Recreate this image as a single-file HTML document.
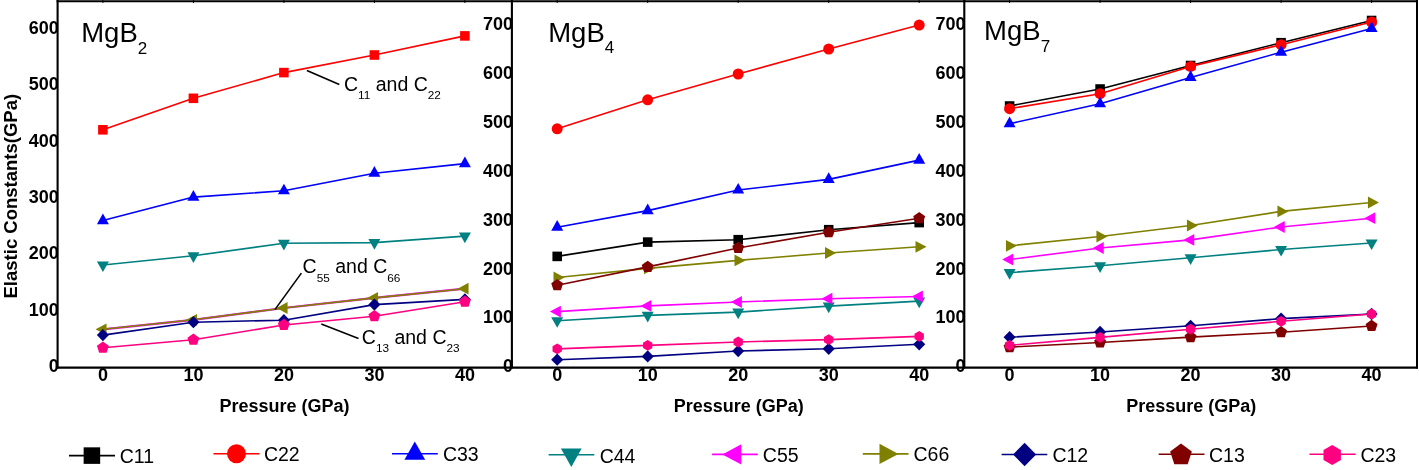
<!DOCTYPE html>
<html><head><meta charset="utf-8"><style>html,body{margin:0;padding:0;background:#fff;width:1419px;height:470px;overflow:hidden;position:relative}</style></head>
<body>
<svg width="1419" height="470" viewBox="0 0 1419 470" style="position:absolute;left:0;top:0;will-change:transform">
<rect width="1419" height="470" fill="#fff"/>
<polyline points="102.9,129.8 193.4,98.3 283.9,72.6 374.4,55.0 464.9,35.9" fill="none" stroke="#ff0000" stroke-width="1.6" stroke-linejoin="round"/>
<rect x="98.12" y="125.02" width="9.57" height="9.57" fill="#ff0000"/>
<rect x="188.62" y="93.52" width="9.57" height="9.57" fill="#ff0000"/>
<rect x="279.11" y="67.81" width="9.57" height="9.57" fill="#ff0000"/>
<rect x="369.61" y="50.22" width="9.57" height="9.57" fill="#ff0000"/>
<rect x="460.11" y="31.11" width="9.57" height="9.57" fill="#ff0000"/>
<polyline points="102.9,220.6 193.4,197.1 283.9,190.8 374.4,173.2 464.9,163.6" fill="none" stroke="#0000ff" stroke-width="1.6" stroke-linejoin="round"/>
<polygon points="102.90,213.49 108.90,224.16 96.91,224.16" fill="#0000ff"/>
<polygon points="193.40,189.99 199.40,200.66 187.41,200.66" fill="#0000ff"/>
<polygon points="283.90,183.69 289.89,194.36 277.90,194.36" fill="#0000ff"/>
<polygon points="374.40,166.09 380.39,176.76 368.40,176.76" fill="#0000ff"/>
<polygon points="464.90,156.49 470.89,167.16 458.90,167.16" fill="#0000ff"/>
<polyline points="102.9,265.0 193.4,255.8 283.9,243.3 374.4,242.6 464.9,236.1" fill="none" stroke="#008080" stroke-width="1.6" stroke-linejoin="round"/>
<polygon points="102.90,272.11 108.90,261.44 96.91,261.44" fill="#008080"/>
<polygon points="193.40,262.91 199.40,252.24 187.41,252.24" fill="#008080"/>
<polygon points="283.90,250.41 289.89,239.74 277.90,239.74" fill="#008080"/>
<polygon points="374.40,249.71 380.39,239.04 368.40,239.04" fill="#008080"/>
<polygon points="464.90,243.21 470.89,232.54 458.90,232.54" fill="#008080"/>
<polyline points="102.9,329.3 193.4,319.8 283.9,308 374.4,297.9 464.9,288.7" fill="none" stroke="#ff00ff" stroke-width="2.2" stroke-linejoin="round"/>
<polyline points="102.9,329.3 193.4,319.8 283.9,308 374.4,297.9 464.9,288.7" fill="none" stroke="#808000" stroke-width="1.6" stroke-linejoin="round"/>
<polygon points="95.57,329.30 106.57,323.42 106.57,335.19" fill="#808000"/>
<polygon points="186.07,319.80 197.07,313.92 197.07,325.69" fill="#808000"/>
<polygon points="276.57,308.00 287.57,302.12 287.57,313.88" fill="#808000"/>
<polygon points="367.07,297.90 378.07,292.01 378.07,303.78" fill="#808000"/>
<polygon points="457.57,288.70 468.57,282.81 468.57,294.58" fill="#808000"/>
<polyline points="102.9,335.1 193.4,322.2 283.9,320.2 374.4,304.6 464.9,299.4" fill="none" stroke="#000080" stroke-width="1.6" stroke-linejoin="round"/>
<polygon points="102.90,328.94 108.95,335.10 102.90,341.26 96.85,335.10" fill="#000080"/>
<polygon points="193.40,316.04 199.45,322.20 193.40,328.36 187.35,322.20" fill="#000080"/>
<polygon points="283.90,314.04 289.95,320.20 283.90,326.36 277.85,320.20" fill="#000080"/>
<polygon points="374.40,298.44 380.45,304.60 374.40,310.76 368.35,304.60" fill="#000080"/>
<polygon points="464.90,293.24 470.95,299.40 464.90,305.56 458.85,299.40" fill="#000080"/>
<polyline points="102.9,347.7 193.4,339.8 283.9,325.0 374.4,316.3 464.9,301.7" fill="none" stroke="#ff0080" stroke-width="1.6" stroke-linejoin="round"/>
<polygon points="102.90,341.43 108.86,345.76 106.59,352.77 99.21,352.77 96.94,345.76" fill="#ff0080"/>
<polygon points="193.40,333.53 199.36,337.86 197.09,344.87 189.71,344.87 187.44,337.86" fill="#ff0080"/>
<polygon points="283.90,318.73 289.86,323.06 287.59,330.07 280.21,330.07 277.94,323.06" fill="#ff0080"/>
<polygon points="374.40,310.03 380.36,314.36 378.09,321.37 370.71,321.37 368.44,314.36" fill="#ff0080"/>
<polygon points="464.90,295.43 470.86,299.76 468.59,306.77 461.21,306.77 458.94,299.76" fill="#ff0080"/>
<polyline points="557.2,256.4 647.7,242.1 738.2,239.7 828.7,229.7 919.2,222.6" fill="none" stroke="#000000" stroke-width="1.6" stroke-linejoin="round"/>
<rect x="552.42" y="251.61" width="9.57" height="9.57" fill="#000000"/>
<rect x="642.92" y="237.31" width="9.57" height="9.57" fill="#000000"/>
<rect x="733.42" y="234.91" width="9.57" height="9.57" fill="#000000"/>
<rect x="823.92" y="224.91" width="9.57" height="9.57" fill="#000000"/>
<rect x="914.42" y="217.81" width="9.57" height="9.57" fill="#000000"/>
<polyline points="557.2,128.8 647.7,99.8 738.2,74.0 828.7,49.0 919.2,25.1" fill="none" stroke="#ff0000" stroke-width="1.6" stroke-linejoin="round"/>
<circle cx="557.20" cy="128.80" r="5.50" fill="#ff0000"/>
<circle cx="647.70" cy="99.80" r="5.50" fill="#ff0000"/>
<circle cx="738.20" cy="74.00" r="5.50" fill="#ff0000"/>
<circle cx="828.70" cy="49.00" r="5.50" fill="#ff0000"/>
<circle cx="919.20" cy="25.10" r="5.50" fill="#ff0000"/>
<polyline points="557.2,227.2 647.7,210.6 738.2,190.0 828.7,179.4 919.2,160.1" fill="none" stroke="#0000ff" stroke-width="1.6" stroke-linejoin="round"/>
<polygon points="557.20,220.09 563.20,230.76 551.21,230.76" fill="#0000ff"/>
<polygon points="647.70,203.49 653.70,214.16 641.71,214.16" fill="#0000ff"/>
<polygon points="738.20,182.89 744.20,193.56 732.21,193.56" fill="#0000ff"/>
<polygon points="828.70,172.29 834.70,182.96 822.71,182.96" fill="#0000ff"/>
<polygon points="919.20,152.99 925.20,163.66 913.21,163.66" fill="#0000ff"/>
<polyline points="557.2,320.7 647.7,315.4 738.2,312.1 828.7,306.1 919.2,301.1" fill="none" stroke="#008080" stroke-width="1.6" stroke-linejoin="round"/>
<polygon points="557.20,327.81 563.20,317.14 551.21,317.14" fill="#008080"/>
<polygon points="647.70,322.51 653.70,311.84 641.71,311.84" fill="#008080"/>
<polygon points="738.20,319.21 744.20,308.54 732.21,308.54" fill="#008080"/>
<polygon points="828.70,313.21 834.70,302.54 822.71,302.54" fill="#008080"/>
<polygon points="919.20,308.21 925.20,297.54 913.21,297.54" fill="#008080"/>
<polyline points="557.2,311.6 647.7,305.9 738.2,302 828.7,298.7 919.2,296.5" fill="none" stroke="#ff00ff" stroke-width="1.6" stroke-linejoin="round"/>
<polygon points="549.87,311.60 560.87,305.72 560.87,317.49" fill="#ff00ff"/>
<polygon points="640.37,305.90 651.37,300.01 651.37,311.78" fill="#ff00ff"/>
<polygon points="730.87,302.00 741.87,296.12 741.87,307.88" fill="#ff00ff"/>
<polygon points="821.37,298.70 832.37,292.81 832.37,304.58" fill="#ff00ff"/>
<polygon points="911.87,296.50 922.87,290.62 922.87,302.38" fill="#ff00ff"/>
<polyline points="557.2,277.5 647.7,268.4 738.2,260.4 828.7,253 919.2,246.8" fill="none" stroke="#808000" stroke-width="1.6" stroke-linejoin="round"/>
<polygon points="564.53,277.50 553.53,271.62 553.53,283.38" fill="#808000"/>
<polygon points="655.03,268.40 644.03,262.51 644.03,274.28" fill="#808000"/>
<polygon points="745.53,260.40 734.53,254.51 734.53,266.28" fill="#808000"/>
<polygon points="836.03,253.00 825.03,247.12 825.03,258.88" fill="#808000"/>
<polygon points="926.53,246.80 915.53,240.92 915.53,252.69" fill="#808000"/>
<polyline points="557.2,359.7 647.7,356.4 738.2,351 828.7,348.8 919.2,344.3" fill="none" stroke="#000080" stroke-width="1.6" stroke-linejoin="round"/>
<polygon points="557.20,353.54 563.25,359.70 557.20,365.86 551.15,359.70" fill="#000080"/>
<polygon points="647.70,350.24 653.75,356.40 647.70,362.56 641.65,356.40" fill="#000080"/>
<polygon points="738.20,344.84 744.25,351.00 738.20,357.16 732.15,351.00" fill="#000080"/>
<polygon points="828.70,342.64 834.75,348.80 828.70,354.96 822.65,348.80" fill="#000080"/>
<polygon points="919.20,338.14 925.25,344.30 919.20,350.46 913.15,344.30" fill="#000080"/>
<polyline points="557.2,285.2 647.7,266.9 738.2,248 828.7,232.3 919.2,218.2" fill="none" stroke="#800000" stroke-width="1.6" stroke-linejoin="round"/>
<polygon points="557.20,278.93 563.16,283.26 560.89,290.27 553.51,290.27 551.24,283.26" fill="#800000"/>
<polygon points="647.70,260.63 653.66,264.96 651.39,271.97 644.01,271.97 641.74,264.96" fill="#800000"/>
<polygon points="738.20,241.73 744.16,246.06 741.89,253.07 734.51,253.07 732.24,246.06" fill="#800000"/>
<polygon points="828.70,226.03 834.66,230.36 832.39,237.37 825.01,237.37 822.74,230.36" fill="#800000"/>
<polygon points="919.20,211.93 925.16,216.26 922.89,223.27 915.51,223.27 913.24,216.26" fill="#800000"/>
<polyline points="557.2,348.9 647.7,345.4 738.2,342 828.7,339.6 919.2,336.4" fill="none" stroke="#ff0080" stroke-width="1.6" stroke-linejoin="round"/>
<polygon points="557.20,343.51 561.87,346.20 561.87,351.59 557.20,354.29 552.53,351.59 552.53,346.20" fill="#ff0080"/>
<polygon points="647.70,340.01 652.37,342.70 652.37,348.09 647.70,350.79 643.03,348.09 643.03,342.70" fill="#ff0080"/>
<polygon points="738.20,336.61 742.87,339.31 742.87,344.69 738.20,347.39 733.53,344.69 733.53,339.31" fill="#ff0080"/>
<polygon points="828.70,334.21 833.37,336.91 833.37,342.30 828.70,344.99 824.03,342.30 824.03,336.91" fill="#ff0080"/>
<polygon points="919.20,331.01 923.87,333.70 923.87,339.09 919.20,341.79 914.53,339.09 914.53,333.70" fill="#ff0080"/>
<polyline points="1009.6,106.0 1100.1,89.0 1190.6,65.5 1281.1,42.7 1371.6,20.5" fill="none" stroke="#000000" stroke-width="1.6" stroke-linejoin="round"/>
<rect x="1004.82" y="101.22" width="9.57" height="9.57" fill="#000000"/>
<rect x="1095.31" y="84.22" width="9.57" height="9.57" fill="#000000"/>
<rect x="1185.81" y="60.72" width="9.57" height="9.57" fill="#000000"/>
<rect x="1276.31" y="37.92" width="9.57" height="9.57" fill="#000000"/>
<rect x="1366.81" y="15.71" width="9.57" height="9.57" fill="#000000"/>
<polyline points="1009.6,108.7 1100.1,93.7 1190.6,66.4 1281.1,44.7 1371.6,22.0" fill="none" stroke="#ff0000" stroke-width="1.6" stroke-linejoin="round"/>
<circle cx="1009.60" cy="108.70" r="5.50" fill="#ff0000"/>
<circle cx="1100.10" cy="93.70" r="5.50" fill="#ff0000"/>
<circle cx="1190.60" cy="66.40" r="5.50" fill="#ff0000"/>
<circle cx="1281.10" cy="44.70" r="5.50" fill="#ff0000"/>
<circle cx="1371.60" cy="22.00" r="5.50" fill="#ff0000"/>
<polyline points="1009.6,123.7 1100.1,103.8 1190.6,77.4 1281.1,52.2 1371.6,28.4" fill="none" stroke="#0000ff" stroke-width="1.6" stroke-linejoin="round"/>
<polygon points="1009.60,116.59 1015.60,127.26 1003.61,127.26" fill="#0000ff"/>
<polygon points="1100.10,96.69 1106.09,107.36 1094.11,107.36" fill="#0000ff"/>
<polygon points="1190.60,70.29 1196.59,80.96 1184.61,80.96" fill="#0000ff"/>
<polygon points="1281.10,45.09 1287.09,55.76 1275.11,55.76" fill="#0000ff"/>
<polygon points="1371.60,21.29 1377.59,31.96 1365.61,31.96" fill="#0000ff"/>
<polyline points="1009.6,272.6 1100.1,265.8 1190.6,257.8 1281.1,249.5 1371.6,243" fill="none" stroke="#008080" stroke-width="1.6" stroke-linejoin="round"/>
<polygon points="1009.60,279.71 1015.60,269.04 1003.61,269.04" fill="#008080"/>
<polygon points="1100.10,272.91 1106.09,262.24 1094.11,262.24" fill="#008080"/>
<polygon points="1190.60,264.91 1196.59,254.24 1184.61,254.24" fill="#008080"/>
<polygon points="1281.10,256.61 1287.09,245.94 1275.11,245.94" fill="#008080"/>
<polygon points="1371.60,250.11 1377.59,239.44 1365.61,239.44" fill="#008080"/>
<polyline points="1009.6,259.5 1100.1,248 1190.6,239.9 1281.1,227 1371.6,218.2" fill="none" stroke="#ff00ff" stroke-width="1.6" stroke-linejoin="round"/>
<polygon points="1002.27,259.50 1013.27,253.62 1013.27,265.38" fill="#ff00ff"/>
<polygon points="1092.77,248.00 1103.77,242.12 1103.77,253.88" fill="#ff00ff"/>
<polygon points="1183.27,239.90 1194.27,234.02 1194.27,245.78" fill="#ff00ff"/>
<polygon points="1273.77,227.00 1284.77,221.12 1284.77,232.88" fill="#ff00ff"/>
<polygon points="1364.27,218.20 1375.27,212.31 1375.27,224.08" fill="#ff00ff"/>
<polyline points="1009.6,245.8 1100.1,236.5 1190.6,225.5 1281.1,211.4 1371.6,202.5" fill="none" stroke="#808000" stroke-width="1.6" stroke-linejoin="round"/>
<polygon points="1016.93,245.80 1005.93,239.92 1005.93,251.69" fill="#808000"/>
<polygon points="1107.43,236.50 1096.43,230.62 1096.43,242.38" fill="#808000"/>
<polygon points="1197.93,225.50 1186.93,219.62 1186.93,231.38" fill="#808000"/>
<polygon points="1288.43,211.40 1277.43,205.52 1277.43,217.28" fill="#808000"/>
<polygon points="1378.93,202.50 1367.93,196.62 1367.93,208.38" fill="#808000"/>
<polyline points="1009.6,337.2 1100.1,332 1190.6,325.8 1281.1,318.6 1371.6,314" fill="none" stroke="#000080" stroke-width="1.6" stroke-linejoin="round"/>
<polygon points="1009.60,331.04 1015.65,337.20 1009.60,343.36 1003.55,337.20" fill="#000080"/>
<polygon points="1100.10,325.84 1106.15,332.00 1100.10,338.16 1094.05,332.00" fill="#000080"/>
<polygon points="1190.60,319.64 1196.65,325.80 1190.60,331.96 1184.55,325.80" fill="#000080"/>
<polygon points="1281.10,312.44 1287.15,318.60 1281.10,324.76 1275.05,318.60" fill="#000080"/>
<polygon points="1371.60,307.84 1377.65,314.00 1371.60,320.16 1365.55,314.00" fill="#000080"/>
<polyline points="1009.6,347.1 1100.1,342.5 1190.6,337.1 1281.1,332.2 1371.6,326" fill="none" stroke="#800000" stroke-width="1.6" stroke-linejoin="round"/>
<polygon points="1009.60,340.83 1015.56,345.16 1013.29,352.17 1005.91,352.17 1003.64,345.16" fill="#800000"/>
<polygon points="1100.10,336.23 1106.06,340.56 1103.79,347.57 1096.41,347.57 1094.14,340.56" fill="#800000"/>
<polygon points="1190.60,330.83 1196.56,335.16 1194.29,342.17 1186.91,342.17 1184.64,335.16" fill="#800000"/>
<polygon points="1281.10,325.93 1287.06,330.26 1284.79,337.27 1277.41,337.27 1275.14,330.26" fill="#800000"/>
<polygon points="1371.60,319.73 1377.56,324.06 1375.29,331.07 1367.91,331.07 1365.64,324.06" fill="#800000"/>
<polyline points="1009.6,345.3 1100.1,337.4 1190.6,329.2 1281.1,321.3 1371.6,314" fill="none" stroke="#ff0080" stroke-width="1.6" stroke-linejoin="round"/>
<polygon points="1009.60,339.91 1014.27,342.61 1014.27,348.00 1009.60,350.69 1004.93,348.00 1004.93,342.61" fill="#ff0080"/>
<polygon points="1100.10,332.01 1104.77,334.70 1104.77,340.09 1100.10,342.79 1095.43,340.09 1095.43,334.70" fill="#ff0080"/>
<polygon points="1190.60,323.81 1195.27,326.50 1195.27,331.89 1190.60,334.59 1185.93,331.89 1185.93,326.50" fill="#ff0080"/>
<polygon points="1281.10,315.91 1285.77,318.61 1285.77,324.00 1281.10,326.69 1276.43,324.00 1276.43,318.61" fill="#ff0080"/>
<polygon points="1371.60,308.61 1376.27,311.31 1376.27,316.69 1371.60,319.39 1366.93,316.69 1366.93,311.31" fill="#ff0080"/>
<line x1="57.6" y1="0" x2="57.6" y2="368.6" stroke="#000" stroke-width="2.1"/>
<line x1="511.9" y1="0" x2="511.9" y2="368.6" stroke="#000" stroke-width="2.1"/>
<line x1="964.3" y1="0" x2="964.3" y2="368.6" stroke="#000" stroke-width="2.1"/>
<line x1="1417.0" y1="0" x2="1417.0" y2="368.6" stroke="#000" stroke-width="2"/>
<line x1="56.6" y1="367.6" x2="1418.0" y2="367.6" stroke="#000" stroke-width="2.1"/>
<line x1="56.6" y1="1.3" x2="1418.0" y2="1.3" stroke="#000" stroke-width="2"/>
<line x1="102.9" y1="0" x2="102.9" y2="3" stroke="#000" stroke-width="1"/>
<line x1="193.4" y1="0" x2="193.4" y2="3" stroke="#000" stroke-width="1"/>
<line x1="283.9" y1="0" x2="283.9" y2="3" stroke="#000" stroke-width="1"/>
<line x1="374.4" y1="0" x2="374.4" y2="3" stroke="#000" stroke-width="1"/>
<line x1="464.9" y1="0" x2="464.9" y2="3" stroke="#000" stroke-width="1"/>
<line x1="557.2" y1="0" x2="557.2" y2="3" stroke="#000" stroke-width="1"/>
<line x1="647.7" y1="0" x2="647.7" y2="3" stroke="#000" stroke-width="1"/>
<line x1="738.2" y1="0" x2="738.2" y2="3" stroke="#000" stroke-width="1"/>
<line x1="828.7" y1="0" x2="828.7" y2="3" stroke="#000" stroke-width="1"/>
<line x1="919.2" y1="0" x2="919.2" y2="3" stroke="#000" stroke-width="1"/>
<line x1="1009.6" y1="0" x2="1009.6" y2="3" stroke="#000" stroke-width="1"/>
<line x1="1100.1" y1="0" x2="1100.1" y2="3" stroke="#000" stroke-width="1"/>
<line x1="1190.6" y1="0" x2="1190.6" y2="3" stroke="#000" stroke-width="1"/>
<line x1="1281.1" y1="0" x2="1281.1" y2="3" stroke="#000" stroke-width="1"/>
<line x1="1371.6" y1="0" x2="1371.6" y2="3" stroke="#000" stroke-width="1"/>
<text x="58.800000000000004" y="371.9" font-family='"Liberation Sans", sans-serif' font-size="18" font-weight="bold" text-anchor="end" >0</text>
<text x="58.800000000000004" y="315.57" font-family='"Liberation Sans", sans-serif' font-size="18" font-weight="bold" text-anchor="end" >100</text>
<text x="58.800000000000004" y="259.23999999999995" font-family='"Liberation Sans", sans-serif' font-size="18" font-weight="bold" text-anchor="end" >200</text>
<text x="58.800000000000004" y="202.91" font-family='"Liberation Sans", sans-serif' font-size="18" font-weight="bold" text-anchor="end" >300</text>
<text x="58.800000000000004" y="146.57999999999998" font-family='"Liberation Sans", sans-serif' font-size="18" font-weight="bold" text-anchor="end" >400</text>
<text x="58.800000000000004" y="90.24999999999997" font-family='"Liberation Sans", sans-serif' font-size="18" font-weight="bold" text-anchor="end" >500</text>
<text x="58.800000000000004" y="33.91999999999998" font-family='"Liberation Sans", sans-serif' font-size="18" font-weight="bold" text-anchor="end" >600</text>
<text x="513.1" y="372.4" font-family='"Liberation Sans", sans-serif' font-size="18" font-weight="bold" text-anchor="end" >0</text>
<text x="513.1" y="323.46999999999997" font-family='"Liberation Sans", sans-serif' font-size="18" font-weight="bold" text-anchor="end" >100</text>
<text x="513.1" y="274.53999999999996" font-family='"Liberation Sans", sans-serif' font-size="18" font-weight="bold" text-anchor="end" >200</text>
<text x="513.1" y="225.61" font-family='"Liberation Sans", sans-serif' font-size="18" font-weight="bold" text-anchor="end" >300</text>
<text x="513.1" y="176.68" font-family='"Liberation Sans", sans-serif' font-size="18" font-weight="bold" text-anchor="end" >400</text>
<text x="513.1" y="127.75" font-family='"Liberation Sans", sans-serif' font-size="18" font-weight="bold" text-anchor="end" >500</text>
<text x="513.1" y="78.82000000000002" font-family='"Liberation Sans", sans-serif' font-size="18" font-weight="bold" text-anchor="end" >600</text>
<text x="513.1" y="29.890000000000008" font-family='"Liberation Sans", sans-serif' font-size="18" font-weight="bold" text-anchor="end" >700</text>
<text x="965.5" y="372.4" font-family='"Liberation Sans", sans-serif' font-size="18" font-weight="bold" text-anchor="end" >0</text>
<text x="965.5" y="323.46999999999997" font-family='"Liberation Sans", sans-serif' font-size="18" font-weight="bold" text-anchor="end" >100</text>
<text x="965.5" y="274.53999999999996" font-family='"Liberation Sans", sans-serif' font-size="18" font-weight="bold" text-anchor="end" >200</text>
<text x="965.5" y="225.61" font-family='"Liberation Sans", sans-serif' font-size="18" font-weight="bold" text-anchor="end" >300</text>
<text x="965.5" y="176.68" font-family='"Liberation Sans", sans-serif' font-size="18" font-weight="bold" text-anchor="end" >400</text>
<text x="965.5" y="127.75" font-family='"Liberation Sans", sans-serif' font-size="18" font-weight="bold" text-anchor="end" >500</text>
<text x="965.5" y="78.82000000000002" font-family='"Liberation Sans", sans-serif' font-size="18" font-weight="bold" text-anchor="end" >600</text>
<text x="965.5" y="29.890000000000008" font-family='"Liberation Sans", sans-serif' font-size="18" font-weight="bold" text-anchor="end" >700</text>
<text x="102.9" y="380.7" font-family='"Liberation Sans", sans-serif' font-size="18" font-weight="bold" text-anchor="middle" >0</text>
<text x="193.4" y="380.7" font-family='"Liberation Sans", sans-serif' font-size="18" font-weight="bold" text-anchor="middle" >10</text>
<text x="283.9" y="380.7" font-family='"Liberation Sans", sans-serif' font-size="18" font-weight="bold" text-anchor="middle" >20</text>
<text x="374.4" y="380.7" font-family='"Liberation Sans", sans-serif' font-size="18" font-weight="bold" text-anchor="middle" >30</text>
<text x="464.9" y="380.7" font-family='"Liberation Sans", sans-serif' font-size="18" font-weight="bold" text-anchor="middle" >40</text>
<text x="557.2" y="380.7" font-family='"Liberation Sans", sans-serif' font-size="18" font-weight="bold" text-anchor="middle" >0</text>
<text x="647.7" y="380.7" font-family='"Liberation Sans", sans-serif' font-size="18" font-weight="bold" text-anchor="middle" >10</text>
<text x="738.2" y="380.7" font-family='"Liberation Sans", sans-serif' font-size="18" font-weight="bold" text-anchor="middle" >20</text>
<text x="828.7" y="380.7" font-family='"Liberation Sans", sans-serif' font-size="18" font-weight="bold" text-anchor="middle" >30</text>
<text x="919.2" y="380.7" font-family='"Liberation Sans", sans-serif' font-size="18" font-weight="bold" text-anchor="middle" >40</text>
<text x="1009.6" y="380.7" font-family='"Liberation Sans", sans-serif' font-size="18" font-weight="bold" text-anchor="middle" >0</text>
<text x="1100.1" y="380.7" font-family='"Liberation Sans", sans-serif' font-size="18" font-weight="bold" text-anchor="middle" >10</text>
<text x="1190.6" y="380.7" font-family='"Liberation Sans", sans-serif' font-size="18" font-weight="bold" text-anchor="middle" >20</text>
<text x="1281.1" y="380.7" font-family='"Liberation Sans", sans-serif' font-size="18" font-weight="bold" text-anchor="middle" >30</text>
<text x="1371.6" y="380.7" font-family='"Liberation Sans", sans-serif' font-size="18" font-weight="bold" text-anchor="middle" >40</text>
<text x="284.5" y="411.7" font-family='"Liberation Sans", sans-serif' font-size="18" font-weight="bold" text-anchor="middle" >Pressure (GPa)</text>
<text x="738.8000000000001" y="411.7" font-family='"Liberation Sans", sans-serif' font-size="18" font-weight="bold" text-anchor="middle" >Pressure (GPa)</text>
<text x="1191.1999999999998" y="411.7" font-family='"Liberation Sans", sans-serif' font-size="18" font-weight="bold" text-anchor="middle" >Pressure (GPa)</text>
<text x="0" y="0" font-family='"Liberation Sans", sans-serif' font-size="18.5" font-weight="bold" text-anchor="middle" transform="translate(17.1,196.2) rotate(-90)">Elastic Constants(GPa)</text>
<text x="81.2" y="42.1" font-family='"Liberation Sans", sans-serif' font-size="27.5">MgB<tspan font-size="17" dy="12.0">2</tspan></text>
<text x="548.2" y="41.5" font-family='"Liberation Sans", sans-serif' font-size="27.5">MgB<tspan font-size="17" dy="11.8">4</tspan></text>
<text x="984.1" y="40.3" font-family='"Liberation Sans", sans-serif' font-size="27.5">MgB<tspan font-size="17" dy="11.3">7</tspan></text>
<line x1="306.9" y1="70.4" x2="339.3" y2="84.5" stroke="#000" stroke-width="1.6"/>
<line x1="301.4" y1="273.1" x2="274.9" y2="309.6" stroke="#000" stroke-width="1.6"/>
<line x1="321.3" y1="324.1" x2="358.5" y2="338.4" stroke="#000" stroke-width="1.6"/>
<text x="344" y="91.2" font-family='"Liberation Sans", sans-serif' font-size="19.5">C<tspan font-size="11.8" dy="8.0">11</tspan><tspan dy="-8.0"> and C</tspan><tspan font-size="11.8" dy="8.0">22</tspan></text>
<text x="302.6" y="273.1" font-family='"Liberation Sans", sans-serif' font-size="19.5">C<tspan font-size="11.8" dy="9.0">55</tspan><tspan dy="-9.0"> and C</tspan><tspan font-size="11.8" dy="9.0">66</tspan></text>
<text x="361.8" y="343.8" font-family='"Liberation Sans", sans-serif' font-size="19.5">C<tspan font-size="11.8" dy="8.6">13</tspan><tspan dy="-8.6"> and C</tspan><tspan font-size="11.8" dy="8.6">23</tspan></text>
<line x1="69" y1="455.6" x2="115" y2="455.6" stroke="#000000" stroke-width="1.6"/>
<rect x="83.64" y="447.34" width="16.53" height="16.53" fill="#000000"/>
<text x="119.7" y="462.9" font-family='"Liberation Sans", sans-serif' font-size="19.5" font-weight="normal" text-anchor="start" >C11</text>
<line x1="213.5" y1="453.7" x2="259.5" y2="453.7" stroke="#ff0000" stroke-width="1.6"/>
<circle cx="236.50" cy="453.70" r="9.50" fill="#ff0000"/>
<text x="263.9" y="461.0" font-family='"Liberation Sans", sans-serif' font-size="19.5" font-weight="normal" text-anchor="start" >C22</text>
<line x1="392" y1="453.7" x2="437.8" y2="453.7" stroke="#0000ff" stroke-width="1.6"/>
<polygon points="414.80,441.41 425.16,459.84 404.44,459.84" fill="#0000ff"/>
<text x="442.9" y="460.6" font-family='"Liberation Sans", sans-serif' font-size="19.5" font-weight="normal" text-anchor="start" >C33</text>
<line x1="548.6" y1="454.7" x2="594.3" y2="454.7" stroke="#008080" stroke-width="1.6"/>
<polygon points="571.30,466.99 581.65,448.56 560.94,448.56" fill="#008080"/>
<text x="599.7" y="462.9" font-family='"Liberation Sans", sans-serif' font-size="19.5" font-weight="normal" text-anchor="start" >C44</text>
<line x1="712.1" y1="454.4" x2="757.8" y2="454.4" stroke="#ff00ff" stroke-width="1.6"/>
<polygon points="722.33,454.40 741.33,444.23 741.33,464.56" fill="#ff00ff"/>
<text x="762.8000000000001" y="462.1" font-family='"Liberation Sans", sans-serif' font-size="19.5" font-weight="normal" text-anchor="start" >C55</text>
<line x1="862.8" y1="453.9" x2="908.5" y2="453.9" stroke="#808000" stroke-width="1.6"/>
<polygon points="898.47,453.90 879.47,443.73 879.47,464.06" fill="#808000"/>
<text x="913.5" y="460.6" font-family='"Liberation Sans", sans-serif' font-size="19.5" font-weight="normal" text-anchor="start" >C66</text>
<line x1="1001.6" y1="454.5" x2="1047.3" y2="454.5" stroke="#000080" stroke-width="1.6"/>
<polygon points="1024.60,442.74 1036.15,454.50 1024.60,466.26 1013.05,454.50" fill="#000080"/>
<text x="1052.4" y="462.1" font-family='"Liberation Sans", sans-serif' font-size="19.5" font-weight="normal" text-anchor="start" >C12</text>
<line x1="1158.7" y1="454.3" x2="1204.5" y2="454.3" stroke="#800000" stroke-width="1.6"/>
<polygon points="1181.00,443.60 1191.84,451.48 1187.70,464.22 1174.30,464.22 1170.16,451.48" fill="#800000"/>
<text x="1209.0" y="461.5" font-family='"Liberation Sans", sans-serif' font-size="19.5" font-weight="normal" text-anchor="start" >C13</text>
<line x1="1309.5" y1="454.3" x2="1355.7" y2="454.3" stroke="#ff0080" stroke-width="1.6"/>
<polygon points="1332.20,444.95 1340.90,449.98 1340.90,460.02 1332.20,465.05 1323.50,460.02 1323.50,449.98" fill="#ff0080"/>
<text x="1360.4" y="461.5" font-family='"Liberation Sans", sans-serif' font-size="19.5" font-weight="normal" text-anchor="start" >C23</text>
</svg>
</body></html>
